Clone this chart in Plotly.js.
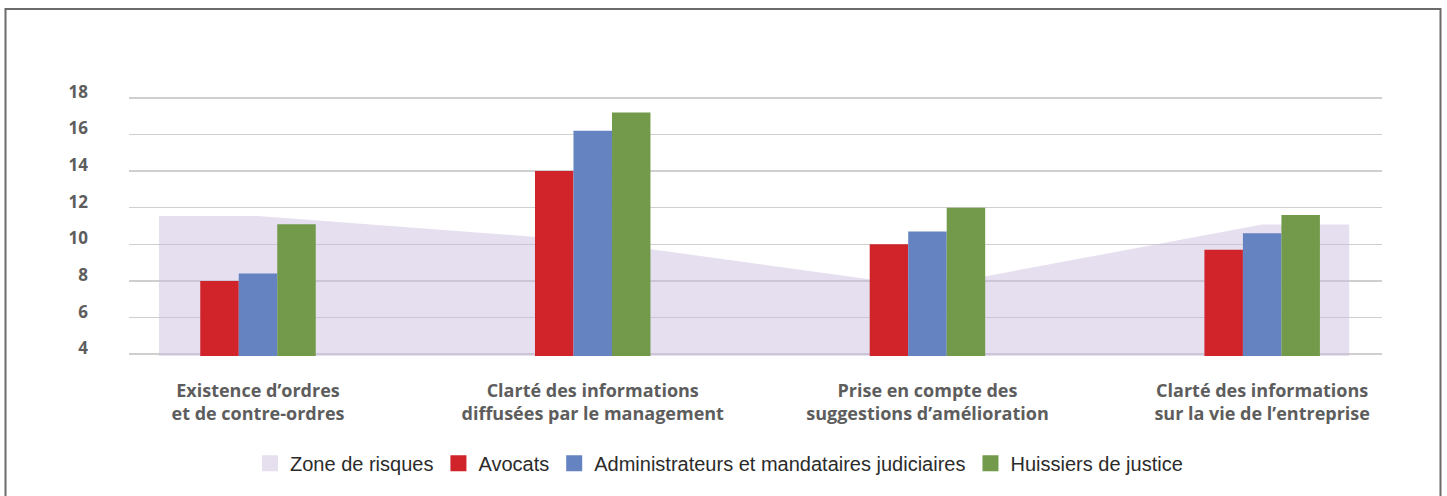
<!DOCTYPE html>
<html>
<head>
<meta charset="utf-8">
<script src="https://cdn.plot.ly/plotly-3.0.1.min.js"></script>
<style>html,body{margin:0;padding:0;background:#fff;}#chart{width:1447px;height:496px;}</style>
</head>
<body>
<div id="chart"></div>
<script>
// ---- Data ----
const categories = [
  "Existence d’ordres<br>et de contre-ordres",
  "Clarté des informations<br>diffusées par le management",
  "Prise en compte des<br>suggestions d’amélioration",
  "Clarté des informations<br>sur la vie de l’entreprise"
];
const seriesNames = ["Zone de risques", "Avocats", "Administrateurs et mandataires judiciaires", "Huissiers de justice"];
const zoneRisques = [11.55, 10.17, 7.66, 11.08];
const avocats = [8.0, 14.0, 10.0, 9.7];
const administrateurs = [8.4, 16.2, 10.7, 10.6];
const huissiers = [11.1, 17.2, 12.0, 11.6];
const yTickVals = [4, 6, 8, 10, 12, 14, 16, 18];

// ---- Style ----
const colors = ["rgba(200,185,220,0.45)", "#d0232a", "#6582c1", "#729a4a"];
const legendColors = ["#e6e0ee", "#d0232a", "#6582c1", "#729a4a"];
const ZONE_LEFT_PAD = 0.296, ZONE_RIGHT_PAD = 0.26;
const catIdx = categories.map((c, i) => i);

const zoneX = [-ZONE_LEFT_PAD].concat(catIdx, [catIdx.length - 1 + ZONE_RIGHT_PAD]);
const zoneY = [zoneRisques[0]].concat(zoneRisques, [zoneRisques[zoneRisques.length - 1]]);

const traces = [];
traces.push({
  type: "scatter", x: zoneX, y: zoneY, mode: "none", fill: "tozeroy",
  fillcolor: colors[0], showlegend: false, hoverinfo: "skip", xaxis: "x", yaxis: "y"
});
[avocats, administrateurs, huissiers].forEach((vals, k) => {
  traces.push({
    type: "bar", x: catIdx, y: vals, name: seriesNames[k + 1],
    marker: {color: colors[k + 1], line: {width: 0}}, showlegend: false,
    xaxis: "x2", yaxis: "y2"
  });
});
// legend entries
seriesNames.forEach((n, k) => {
  traces.push({
    type: "scatter", mode: "markers", x: [null], y: [null], name: n,
    marker: {symbol: "square", size: 19, color: legendColors[k]},
    xaxis: "x", yaxis: "y", hoverinfo: "skip"
  });
});

const L = 129, R = 1382, T = 95.87, B = 355.83;
const W = 1447, H = 496;
const pw = R - L, ph = B - T;
const px = v => (v - L) / pw;
const py = v => (B - v) / ph;

const xRange = [-0.3854, 3.358];
const yRange = [3.9, 18.1];
const labelFont = {family: "Open Sans, Liberation Sans, Arial", size: 17, color: "#5d5d5d", weight: "bold"};
const catFont = {family: "Open Sans, Liberation Sans, Arial", size: 18, color: "#5d5d5d", weight: "bold"};

const layout = {
  width: W, height: H,
  margin: {l: L, r: W - R, t: T, b: H - B, pad: 0},
  paper_bgcolor: "#ffffff", plot_bgcolor: "#ffffff",
  showlegend: true,
  barmode: "group", bargap: 0.655, bargroupgap: 0,
  xaxis: {
    range: xRange, tickvals: catIdx, ticktext: categories,
    showgrid: false, zeroline: false, showline: false, ticks: "",
    tickfont: catFont, ticklabelstandoff: 22, fixedrange: true
  },
  yaxis: {
    range: yRange, tickvals: yTickVals, showgrid: true, gridcolor: "#cfcfcf", gridwidth: 1.6,
    zeroline: false, showline: false, ticks: "", tickfont: labelFont,
    ticklabelstandoff: 40, ticklabelshift: -6, fixedrange: true
  },
  xaxis2: {range: xRange, overlaying: "x", visible: false, fixedrange: true},
  yaxis2: {range: yRange, overlaying: "y", visible: false, fixedrange: true},
  legend: {
    orientation: "h", x: px(719), xanchor: "center", y: py(463), yanchor: "middle",
    font: {family: "Liberation Sans, Arial", size: 20, color: "#2b2b2b"},
    itemclick: false, itemdoubleclick: false, bgcolor: "rgba(0,0,0,0)"
  },
  shapes: [{
    type: "rect", xref: "paper", yref: "paper",
    x0: px(5.5), x1: px(1440.5), y0: py(530), y1: py(9),
    line: {color: "#6b6b6b", width: 2}, fillcolor: "rgba(0,0,0,0)", layer: "above"
  }]
};

Plotly.newPlot("chart", traces, layout, {displayModeBar: false, staticPlot: true});
</script>
</body>
</html>
